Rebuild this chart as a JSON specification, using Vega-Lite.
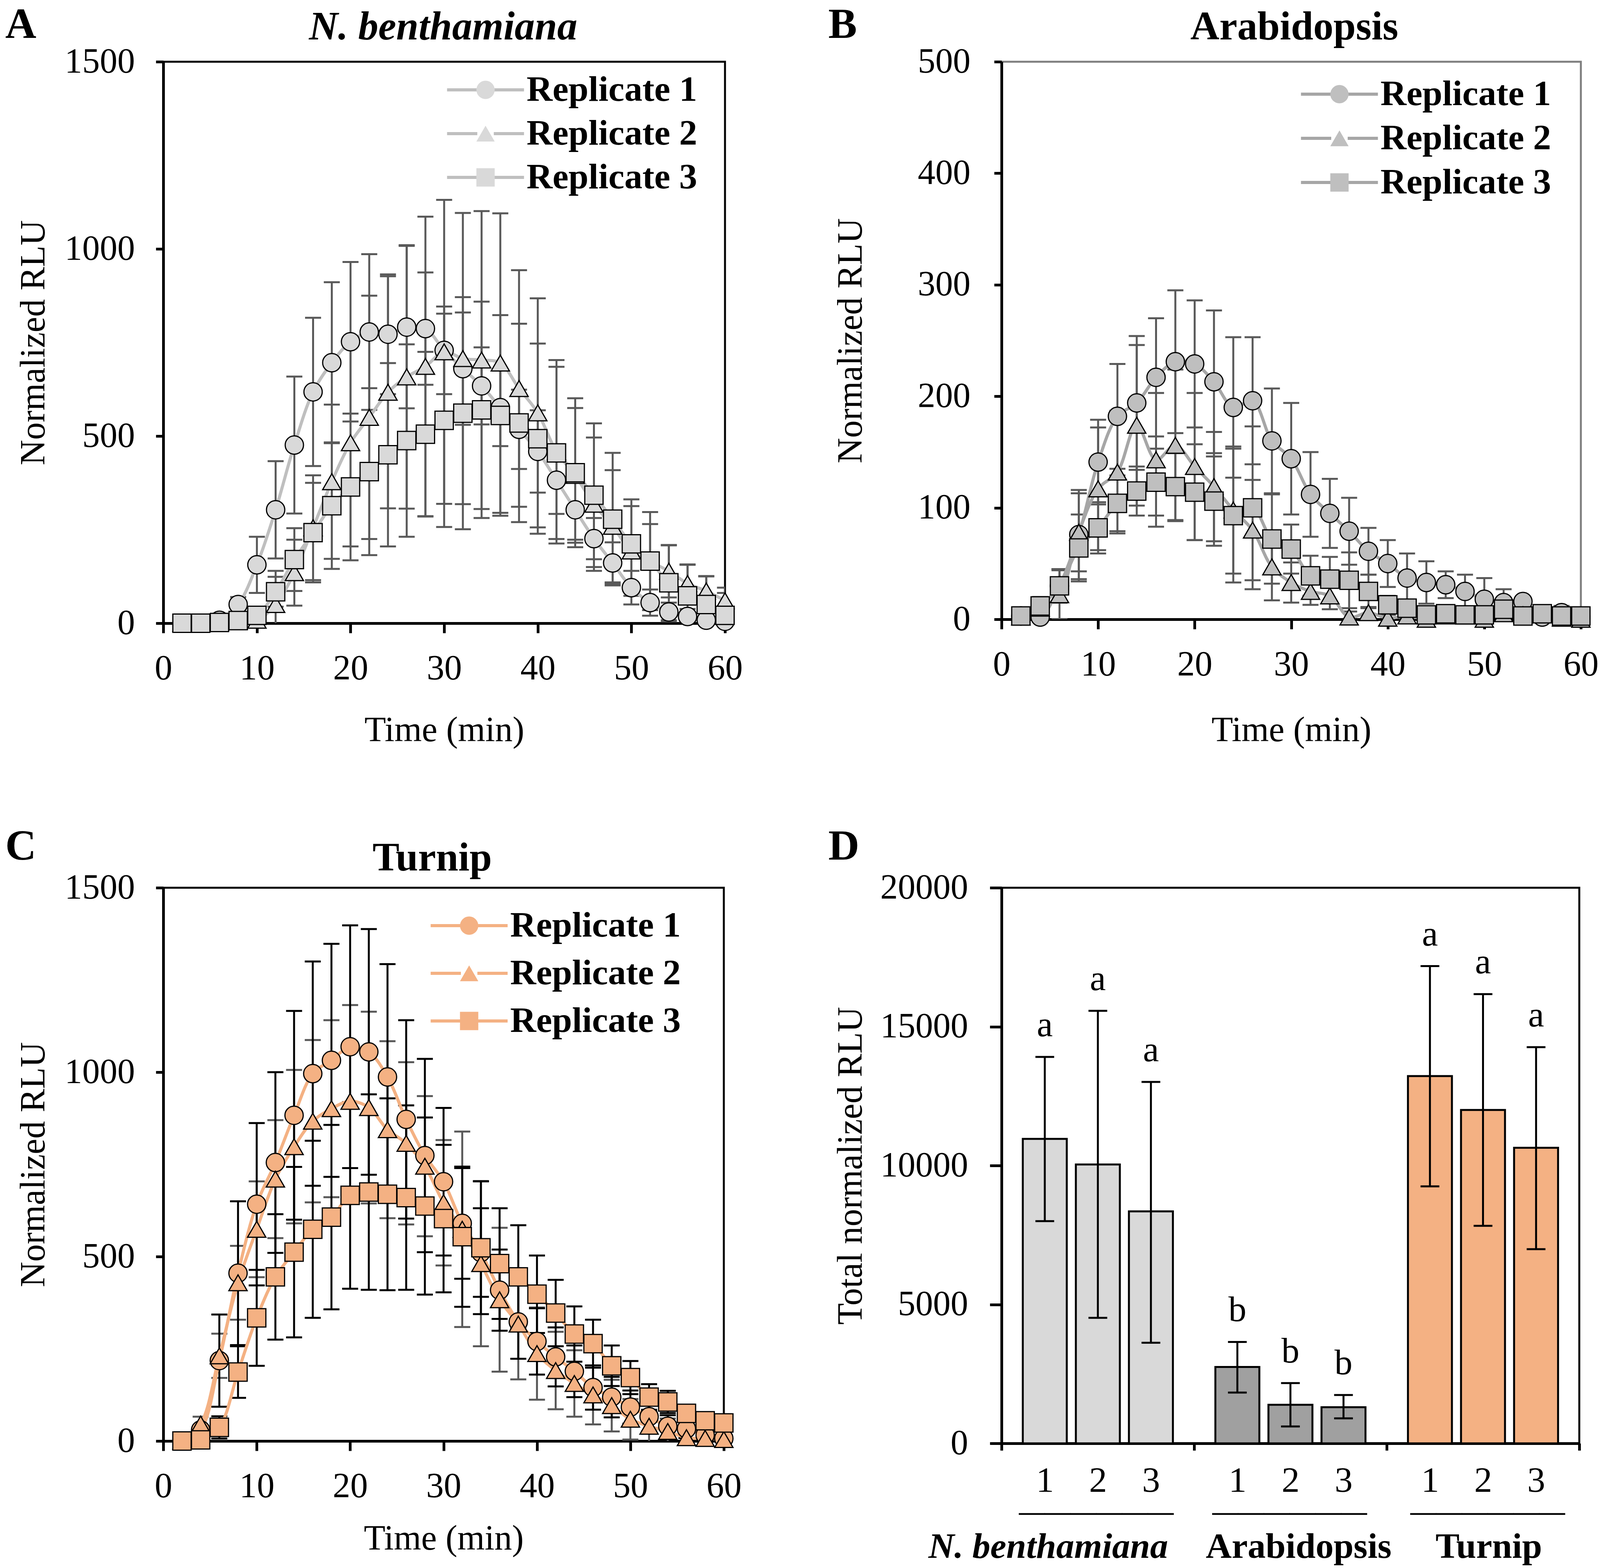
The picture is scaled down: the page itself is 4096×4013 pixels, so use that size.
{
"$schema": "https://vega.github.io/schema/vega-lite/v6.json",
"background": "white",
"padding": {"left": 10, "top": 5, "right": 40, "bottom": 10},
"bounds": "flush",
"align": "each",
"columns": 2,
"spacing": {"row": 677, "column": 708},
"resolve": {"scale": {"color": "independent", "shape": "independent"}, "legend": {"color": "independent", "shape": "independent"}},
"config": {
  "font": "Liberation Serif",
  "axis": {"labelFont": "Liberation Serif", "titleFont": "Liberation Serif", "labelFontSize": 90, "titleFontSize": 90, "titleFontWeight": "normal", "labelColor": "black", "titleColor": "black", "domainColor": "black", "tickColor": "black", "domainWidth": 7, "tickWidth": 7, "grid": false, "labelOverlap": false, "labelFlush": false, "labelLimit": 2000},
  "legend": {"labelFont": "Liberation Serif", "labelFontSize": 92, "labelFontWeight": "bold", "labelColor": "black", "labelLimit": 2000},
  "title": {"font": "Liberation Serif"},
  "view": {"stroke": "black", "strokeWidth": 5}
},
"datasets": {
"A": [
{"t":2,"r":"Replicate 1","v":0,"s":0},{"t":4,"r":"Replicate 1","v":0,"s":2},{"t":6,"r":"Replicate 1","v":8,"s":5},{"t":8,"r":"Replicate 1","v":50,"s":20},{"t":10,"r":"Replicate 1","v":156,"s":75},{"t":12,"r":"Replicate 1","v":303,"s":130},{"t":14,"r":"Replicate 1","v":476,"s":183},{"t":16,"r":"Replicate 1","v":618,"s":198},{"t":18,"r":"Replicate 1","v":696,"s":215},{"t":20,"r":"Replicate 1","v":752,"s":213},{"t":22,"r":"Replicate 1","v":778,"s":208},{"t":24,"r":"Replicate 1","v":772,"s":160},{"t":26,"r":"Replicate 1","v":791,"s":217},{"t":28,"r":"Replicate 1","v":787,"s":150},{"t":30,"r":"Replicate 1","v":729,"s":117},{"t":32,"r":"Replicate 1","v":680,"s":150},{"t":34,"r":"Replicate 1","v":634,"s":103},{"t":36,"r":"Replicate 1","v":576,"s":103},{"t":38,"r":"Replicate 1","v":518,"s":106},{"t":40,"r":"Replicate 1","v":459,"s":110},{"t":42,"r":"Replicate 1","v":382,"s":90},{"t":44,"r":"Replicate 1","v":303,"s":80},{"t":46,"r":"Replicate 1","v":226,"s":55},{"t":48,"r":"Replicate 1","v":161,"s":55},{"t":50,"r":"Replicate 1","v":95,"s":45},{"t":52,"r":"Replicate 1","v":55,"s":35},{"t":54,"r":"Replicate 1","v":30,"s":25},{"t":56,"r":"Replicate 1","v":18,"s":20},{"t":58,"r":"Replicate 1","v":8,"s":10},{"t":60,"r":"Replicate 1","v":5,"s":10},
{"t":2,"r":"Replicate 2","v":0,"s":0},{"t":4,"r":"Replicate 2","v":2,"s":3},{"t":6,"r":"Replicate 2","v":2,"s":5},{"t":8,"r":"Replicate 2","v":5,"s":10},{"t":10,"r":"Replicate 2","v":8,"s":20},{"t":12,"r":"Replicate 2","v":50,"s":90},{"t":14,"r":"Replicate 2","v":135,"s":88},{"t":16,"r":"Replicate 2","v":255,"s":140},{"t":18,"r":"Replicate 2","v":378,"s":206},{"t":20,"r":"Replicate 2","v":482,"s":277},{"t":22,"r":"Replicate 2","v":550,"s":325},{"t":24,"r":"Replicate 2","v":617,"s":310},{"t":26,"r":"Replicate 2","v":658,"s":352},{"t":28,"r":"Replicate 2","v":686,"s":400},{"t":30,"r":"Replicate 2","v":725,"s":406},{"t":32,"r":"Replicate 2","v":707,"s":389},{"t":34,"r":"Replicate 2","v":703,"s":398},{"t":36,"r":"Replicate 2","v":695,"s":400},{"t":38,"r":"Replicate 2","v":627,"s":316},{"t":40,"r":"Replicate 2","v":562,"s":306},{"t":42,"r":"Replicate 2","v":458,"s":245},{"t":44,"r":"Replicate 2","v":395,"s":180},{"t":46,"r":"Replicate 2","v":318,"s":178},{"t":48,"r":"Replicate 2","v":259,"s":150},{"t":50,"r":"Replicate 2","v":193,"s":120},{"t":52,"r":"Replicate 2","v":165,"s":100},{"t":54,"r":"Replicate 2","v":139,"s":70},{"t":56,"r":"Replicate 2","v":106,"s":50},{"t":58,"r":"Replicate 2","v":86,"s":40},{"t":60,"r":"Replicate 2","v":60,"s":35},
{"t":2,"r":"Replicate 3","v":0,"s":0},{"t":4,"r":"Replicate 3","v":0,"s":0},{"t":6,"r":"Replicate 3","v":2,"s":3},{"t":8,"r":"Replicate 3","v":7,"s":8},{"t":10,"r":"Replicate 3","v":21,"s":15},{"t":12,"r":"Replicate 3","v":84,"s":40},{"t":14,"r":"Replicate 3","v":170,"s":84},{"t":16,"r":"Replicate 3","v":242,"s":133},{"t":18,"r":"Replicate 3","v":314,"s":169},{"t":20,"r":"Replicate 3","v":364,"s":196},{"t":22,"r":"Replicate 3","v":405,"s":223},{"t":24,"r":"Replicate 3","v":450,"s":245},{"t":26,"r":"Replicate 3","v":488,"s":257},{"t":28,"r":"Replicate 3","v":505,"s":220},{"t":30,"r":"Replicate 3","v":542,"s":285},{"t":32,"r":"Replicate 3","v":561,"s":310},{"t":34,"r":"Replicate 3","v":570,"s":289},{"t":36,"r":"Replicate 3","v":555,"s":268},{"t":38,"r":"Replicate 3","v":535,"s":265},{"t":40,"r":"Replicate 3","v":493,"s":254},{"t":42,"r":"Replicate 3","v":455,"s":230},{"t":44,"r":"Replicate 3","v":402,"s":199},{"t":46,"r":"Replicate 3","v":342,"s":192},{"t":48,"r":"Replicate 3","v":278,"s":177},{"t":50,"r":"Replicate 3","v":212,"s":119},{"t":52,"r":"Replicate 3","v":166,"s":131},{"t":54,"r":"Replicate 3","v":108,"s":100},{"t":56,"r":"Replicate 3","v":73,"s":84},{"t":58,"r":"Replicate 3","v":50,"s":75},{"t":60,"r":"Replicate 3","v":21,"s":60}
],
"B": [
{"t":2,"r":"Replicate 1","v":3,"s":5},{"t":4,"r":"Replicate 1","v":2,"s":8},{"t":6,"r":"Replicate 1","v":30,"s":15},{"t":8,"r":"Replicate 1","v":76,"s":40},{"t":10,"r":"Replicate 1","v":141,"s":38},{"t":12,"r":"Replicate 1","v":182,"s":47},{"t":14,"r":"Replicate 1","v":194,"s":60},{"t":16,"r":"Replicate 1","v":217,"s":53},{"t":18,"r":"Replicate 1","v":231,"s":64},{"t":20,"r":"Replicate 1","v":229,"s":57},{"t":22,"r":"Replicate 1","v":213,"s":64},{"t":24,"r":"Replicate 1","v":190,"s":63},{"t":26,"r":"Replicate 1","v":196,"s":57},{"t":28,"r":"Replicate 1","v":160,"s":47},{"t":30,"r":"Replicate 1","v":144,"s":50},{"t":32,"r":"Replicate 1","v":112,"s":38},{"t":34,"r":"Replicate 1","v":95,"s":31},{"t":36,"r":"Replicate 1","v":79,"s":30},{"t":38,"r":"Replicate 1","v":61,"s":21},{"t":40,"r":"Replicate 1","v":50,"s":21},{"t":42,"r":"Replicate 1","v":37,"s":22},{"t":44,"r":"Replicate 1","v":33,"s":19},{"t":46,"r":"Replicate 1","v":31,"s":12},{"t":48,"r":"Replicate 1","v":25,"s":15},{"t":50,"r":"Replicate 1","v":18,"s":19},{"t":52,"r":"Replicate 1","v":15,"s":12},{"t":54,"r":"Replicate 1","v":16,"s":4},{"t":56,"r":"Replicate 1","v":2,"s":10},{"t":58,"r":"Replicate 1","v":6,"s":6},{"t":60,"r":"Replicate 1","v":2,"s":6},
{"t":2,"r":"Replicate 2","v":2,"s":5},{"t":4,"r":"Replicate 2","v":10,"s":5},{"t":6,"r":"Replicate 2","v":22,"s":22},{"t":8,"r":"Replicate 2","v":78,"s":35},{"t":10,"r":"Replicate 2","v":117,"s":55},{"t":12,"r":"Replicate 2","v":132,"s":55},{"t":14,"r":"Replicate 2","v":174,"s":72},{"t":16,"r":"Replicate 2","v":143,"s":60},{"t":18,"r":"Replicate 2","v":156,"s":68},{"t":20,"r":"Replicate 2","v":137,"s":66},{"t":22,"r":"Replicate 2","v":119,"s":49},{"t":24,"r":"Replicate 2","v":98,"s":57},{"t":26,"r":"Replicate 2","v":80,"s":45},{"t":28,"r":"Replicate 2","v":47,"s":30},{"t":30,"r":"Replicate 2","v":33,"s":18},{"t":32,"r":"Replicate 2","v":25,"s":12},{"t":34,"r":"Replicate 2","v":21,"s":12},{"t":36,"r":"Replicate 2","v":2,"s":5},{"t":38,"r":"Replicate 2","v":6,"s":5},{"t":40,"r":"Replicate 2","v":1,"s":3},{"t":42,"r":"Replicate 2","v":3,"s":3},{"t":44,"r":"Replicate 2","v":0,"s":3},{"t":46,"r":"Replicate 2","v":3,"s":3},{"t":48,"r":"Replicate 2","v":3,"s":3},{"t":50,"r":"Replicate 2","v":0,"s":3},{"t":52,"r":"Replicate 2","v":5,"s":3},{"t":54,"r":"Replicate 2","v":4,"s":5},{"t":56,"r":"Replicate 2","v":5,"s":5},{"t":58,"r":"Replicate 2","v":1,"s":3},{"t":60,"r":"Replicate 2","v":0,"s":3},
{"t":2,"r":"Replicate 3","v":3,"s":5},{"t":4,"r":"Replicate 3","v":12,"s":8},{"t":6,"r":"Replicate 3","v":30,"s":15},{"t":8,"r":"Replicate 3","v":64,"s":30},{"t":10,"r":"Replicate 3","v":82,"s":23},{"t":12,"r":"Replicate 3","v":104,"s":25},{"t":14,"r":"Replicate 3","v":115,"s":22},{"t":16,"r":"Replicate 3","v":123,"s":30},{"t":18,"r":"Replicate 3","v":119,"s":30},{"t":20,"r":"Replicate 3","v":114,"s":43},{"t":22,"r":"Replicate 3","v":106,"s":40},{"t":24,"r":"Replicate 3","v":93,"s":60},{"t":26,"r":"Replicate 3","v":100,"s":73},{"t":28,"r":"Replicate 3","v":72,"s":40},{"t":30,"r":"Replicate 3","v":63,"s":22},{"t":32,"r":"Replicate 3","v":39,"s":18},{"t":34,"r":"Replicate 3","v":36,"s":20},{"t":36,"r":"Replicate 3","v":35,"s":25},{"t":38,"r":"Replicate 3","v":25,"s":15},{"t":40,"r":"Replicate 3","v":13,"s":8},{"t":42,"r":"Replicate 3","v":10,"s":5},{"t":44,"r":"Replicate 3","v":4,"s":4},{"t":46,"r":"Replicate 3","v":5,"s":4},{"t":48,"r":"Replicate 3","v":4,"s":4},{"t":50,"r":"Replicate 3","v":4,"s":4},{"t":52,"r":"Replicate 3","v":9,"s":6},{"t":54,"r":"Replicate 3","v":3,"s":3},{"t":56,"r":"Replicate 3","v":5,"s":3},{"t":58,"r":"Replicate 3","v":3,"s":3},{"t":60,"r":"Replicate 3","v":3,"s":3}
],
"C": [
{"t":2,"r":"Replicate 1","v":0,"s":0},{"t":4,"r":"Replicate 1","v":30,"s":5},{"t":6,"r":"Replicate 1","v":218,"s":125},{"t":8,"r":"Replicate 1","v":455,"s":195},{"t":10,"r":"Replicate 1","v":642,"s":220},{"t":12,"r":"Replicate 1","v":755,"s":245},{"t":14,"r":"Replicate 1","v":883,"s":283},{"t":16,"r":"Replicate 1","v":996,"s":304},{"t":18,"r":"Replicate 1","v":1032,"s":316},{"t":20,"r":"Replicate 1","v":1069,"s":329},{"t":22,"r":"Replicate 1","v":1055,"s":333},{"t":24,"r":"Replicate 1","v":987,"s":306},{"t":26,"r":"Replicate 1","v":872,"s":269},{"t":28,"r":"Replicate 1","v":774,"s":262},{"t":30,"r":"Replicate 1","v":703,"s":200},{"t":32,"r":"Replicate 1","v":590,"s":150},{"t":34,"r":"Replicate 1","v":511,"s":120},{"t":36,"r":"Replicate 1","v":409,"s":110},{"t":38,"r":"Replicate 1","v":323,"s":100},{"t":40,"r":"Replicate 1","v":270,"s":90},{"t":42,"r":"Replicate 1","v":228,"s":80},{"t":44,"r":"Replicate 1","v":189,"s":70},{"t":46,"r":"Replicate 1","v":145,"s":60},{"t":48,"r":"Replicate 1","v":119,"s":55},{"t":50,"r":"Replicate 1","v":92,"s":45},{"t":52,"r":"Replicate 1","v":66,"s":40},{"t":54,"r":"Replicate 1","v":40,"s":30},{"t":56,"r":"Replicate 1","v":33,"s":25},{"t":58,"r":"Replicate 1","v":16,"s":15},{"t":60,"r":"Replicate 1","v":7,"s":10},
{"t":2,"r":"Replicate 2","v":0,"s":0},{"t":4,"r":"Replicate 2","v":46,"s":20},{"t":6,"r":"Replicate 2","v":231,"s":60},{"t":8,"r":"Replicate 2","v":429,"s":100},{"t":10,"r":"Replicate 2","v":574,"s":130},{"t":12,"r":"Replicate 2","v":710,"s":160},{"t":14,"r":"Replicate 2","v":798,"s":208},{"t":16,"r":"Replicate 2","v":867,"s":220},{"t":18,"r":"Replicate 2","v":901,"s":240},{"t":20,"r":"Replicate 2","v":921,"s":261},{"t":22,"r":"Replicate 2","v":904,"s":260},{"t":24,"r":"Replicate 2","v":844,"s":240},{"t":26,"r":"Replicate 2","v":807,"s":220},{"t":28,"r":"Replicate 2","v":745,"s":190},{"t":30,"r":"Replicate 2","v":646,"s":170},{"t":32,"r":"Replicate 2","v":574,"s":265},{"t":34,"r":"Replicate 2","v":481,"s":224},{"t":36,"r":"Replicate 2","v":383,"s":195},{"t":38,"r":"Replicate 2","v":317,"s":150},{"t":40,"r":"Replicate 2","v":237,"s":125},{"t":42,"r":"Replicate 2","v":191,"s":105},{"t":44,"r":"Replicate 2","v":156,"s":90},{"t":46,"r":"Replicate 2","v":125,"s":80},{"t":48,"r":"Replicate 2","v":96,"s":70},{"t":50,"r":"Replicate 2","v":59,"s":55},{"t":52,"r":"Replicate 2","v":40,"s":45},{"t":54,"r":"Replicate 2","v":26,"s":35},{"t":56,"r":"Replicate 2","v":9,"s":25},{"t":58,"r":"Replicate 2","v":7,"s":15},{"t":60,"r":"Replicate 2","v":4,"s":10},
{"t":2,"r":"Replicate 3","v":0,"s":0},{"t":4,"r":"Replicate 3","v":3,"s":10},{"t":6,"r":"Replicate 3","v":37,"s":30},{"t":8,"r":"Replicate 3","v":187,"s":70},{"t":10,"r":"Replicate 3","v":334,"s":130},{"t":12,"r":"Replicate 3","v":445,"s":170},{"t":14,"r":"Replicate 3","v":512,"s":231},{"t":16,"r":"Replicate 3","v":574,"s":240},{"t":18,"r":"Replicate 3","v":607,"s":250},{"t":20,"r":"Replicate 3","v":666,"s":253},{"t":22,"r":"Replicate 3","v":675,"s":265},{"t":24,"r":"Replicate 3","v":669,"s":260},{"t":26,"r":"Replicate 3","v":660,"s":250},{"t":28,"r":"Replicate 3","v":637,"s":240},{"t":30,"r":"Replicate 3","v":603,"s":200},{"t":32,"r":"Replicate 3","v":554,"s":190},{"t":34,"r":"Replicate 3","v":524,"s":180},{"t":36,"r":"Replicate 3","v":481,"s":150},{"t":38,"r":"Replicate 3","v":445,"s":140},{"t":40,"r":"Replicate 3","v":398,"s":105},{"t":42,"r":"Replicate 3","v":347,"s":90},{"t":44,"r":"Replicate 3","v":290,"s":75},{"t":46,"r":"Replicate 3","v":264,"s":65},{"t":48,"r":"Replicate 3","v":204,"s":55},{"t":50,"r":"Replicate 3","v":172,"s":45},{"t":52,"r":"Replicate 3","v":119,"s":35},{"t":54,"r":"Replicate 3","v":106,"s":30},{"t":56,"r":"Replicate 3","v":75,"s":20},{"t":58,"r":"Replicate 3","v":55,"s":15},{"t":60,"r":"Replicate 3","v":49,"s":10}
],
"D": [
{"g":"N. benthamiana","n":"1","v":10960,"lo":8000,"hi":13910,"lab":"a"},
{"g":"N. benthamiana","n":"2","v":10040,"lo":4520,"hi":15570,"lab":"a"},
{"g":"N. benthamiana","n":"3","v":8350,"lo":3620,"hi":13010,"lab":"a"},
{"g":"Arabidopsis","n":"1","v":2750,"lo":1830,"hi":3650,"lab":"b"},
{"g":"Arabidopsis","n":"2","v":1390,"lo":610,"hi":2170,"lab":"b"},
{"g":"Arabidopsis","n":"3","v":1300,"lo":900,"hi":1740,"lab":"b"},
{"g":"Turnip","n":"1","v":13220,"lo":9250,"hi":17180,"lab":"a"},
{"g":"Turnip","n":"2","v":12000,"lo":7830,"hi":16170,"lab":"a"},
{"g":"Turnip","n":"3","v":10640,"lo":6990,"hi":14260,"lab":"a"}
]
},
"concat": [
{
 "width": 1438, "height": 1437,
 "data": {"name": "A"},
 "view": {"stroke": "black", "strokeWidth": 5},
 "layer": [
  {"mark": {"type": "errorbar", "ticks": {"opacity": 1}, "rule": {"opacity": 1}, "size": 41, "thickness": 5, "color": "#595959", "opacity": 1, "clip": true},
   "encoding": {
    "x": {"field": "t", "type": "quantitative", "scale": {"domain": [0, 60], "nice": false}, "axis": {"orient": "top", "labels": false, "ticks": false, "domain": false, "title": "A", "titleFontSize": 110, "titleFontWeight": "bold", "titleAngle": 0, "titleAlign": "left", "titleBaseline": "alphabetic", "titleX": -405, "titleY": -62}},
    "y": {"field": "v", "type": "quantitative", "scale": {"domain": [0, 1500], "nice": false}, "axis": {"title": "Normalized RLU", "values": [0, 500, 1000, 1500], "format": "d", "tickSize": 19, "labelPadding": 54, "titlePadding": 86}},
    "yError": {"field": "s"}
   }},
  {"mark": {"type": "line", "interpolate": "catmull-rom", "strokeWidth": 8},
   "encoding": {
    "x": {"field": "t", "type": "quantitative", "scale": {"domain": [0, 60], "nice": false}, "axis": {"orient": "bottom", "title": "Time (min)", "values": [0, 10, 20, 30, 40, 50, 60], "format": "d", "tickSize": 25, "labelPadding": 47, "titlePadding": 69}},
    "y": {"field": "v", "type": "quantitative", "scale": {"domain": [0, 1500], "nice": false}, "axis": {"title": "Normalized RLU", "values": [0, 500, 1000, 1500], "format": "d", "tickSize": 19, "labelPadding": 54, "titlePadding": 86}},
    "color": {"field": "r", "type": "nominal", "scale": {"domain": ["Replicate 1", "Replicate 2", "Replicate 3"], "range": ["#bfbfbf", "#bfbfbf", "#bfbfbf"]}, "legend": {"orient": "none", "legendX": 779, "legendY": 26, "zindex": 1, "title": null, "padding": 0, "symbolType": "M-4.2,0H-0.9M0.9,0H4.2", "symbolSize": 2200, "symbolStrokeWidth": 8, "labelOpacity": 0, "rowPadding": 20, "labelOffset": 59}}
   }},
  {"mark": {"type": "point", "filled": true, "fill": "#d9d9d9", "stroke": "black", "strokeWidth": 3, "size": 2200, "opacity": 1},
   "encoding": {
    "x": {"field": "t", "type": "quantitative", "scale": {"domain": [0, 60], "nice": false}, "axis": {"orient": "top", "labels": false, "ticks": false, "domain": false, "title": "N. benthamiana", "titleFontSize": 103, "titleFontWeight": "bold", "titleFontStyle": "italic", "titleAngle": 0, "titleAlign": "center", "titleBaseline": "alphabetic", "titleX": 716, "titleY": -58}},
    "y": {"field": "v", "type": "quantitative", "scale": {"domain": [0, 1500], "nice": false}, "axis": {"title": "Normalized RLU", "values": [0, 500, 1000, 1500], "format": "d", "tickSize": 19, "labelPadding": 54, "titlePadding": 86}},
    "shape": {"field": "r", "type": "nominal", "scale": {"range": ["circle", "triangle-up", "square"]}, "legend": {"orient": "none", "legendX": 779, "legendY": 26, "zindex": 2, "title": null, "padding": 0, "symbolSize": 2200, "symbolFillColor": "#d9d9d9", "symbolStrokeColor": "black", "symbolStrokeWidth": 3, "symbolOpacity": 1, "rowPadding": 20, "labelOffset": 59, "encode": {"symbols": {"update": {"size": {"value": 2200}, "fill": {"value": "#d9d9d9"}, "stroke": {"value": "black"}, "strokeWidth": {"value": 3}, "opacity": {"value": 1}}}}}}
   }}
 ],
 "resolve": {"axis": {"x": "independent"}}
},
{
 "width": 1483, "height": 1427,
 "data": {"name": "B"},
 "view": {"stroke": "#7f7f7f", "strokeWidth": 5},
 "layer": [
  {"mark": {"type": "errorbar", "ticks": {"opacity": 1}, "rule": {"opacity": 1}, "size": 41, "thickness": 5, "color": "#595959", "opacity": 1, "clip": true},
   "encoding": {
    "x": {"field": "t", "type": "quantitative", "scale": {"domain": [0, 60], "nice": false}, "axis": {"orient": "top", "labels": false, "ticks": false, "domain": false, "title": "B", "titleFontSize": 110, "titleFontWeight": "bold", "titleAngle": 0, "titleAlign": "left", "titleBaseline": "alphabetic", "titleX": -444, "titleY": -62}},
    "y": {"field": "v", "type": "quantitative", "scale": {"domain": [0, 500], "nice": false}, "axis": {"title": "Normalized RLU", "values": [0, 100, 200, 300, 400, 500], "format": "d", "tickSize": 19, "labelPadding": 61, "titlePadding": 140}},
    "yError": {"field": "s"}
   }},
  {"mark": {"type": "line", "interpolate": "catmull-rom", "strokeWidth": 8},
   "encoding": {
    "x": {"field": "t", "type": "quantitative", "scale": {"domain": [0, 60], "nice": false}, "axis": {"orient": "bottom", "title": "Time (min)", "values": [0, 10, 20, 30, 40, 50, 60], "format": "d", "tickSize": 25, "labelPadding": 47, "titlePadding": 79}},
    "y": {"field": "v", "type": "quantitative", "scale": {"domain": [0, 500], "nice": false}, "axis": {"title": "Normalized RLU", "values": [0, 100, 200, 300, 400, 500], "format": "d", "tickSize": 19, "labelPadding": 61, "titlePadding": 140}},
    "color": {"field": "r", "type": "nominal", "scale": {"domain": ["Replicate 1", "Replicate 2", "Replicate 3"], "range": ["#a6a6a6", "#a6a6a6", "#a6a6a6"]}, "legend": {"orient": "none", "legendX": 819, "legendY": 37, "zindex": 1, "title": null, "padding": 0, "symbolType": "M-4.2,0H-0.9M0.9,0H4.2", "symbolSize": 2200, "symbolStrokeWidth": 8, "labelOpacity": 0, "rowPadding": 21, "labelOffset": 59}}
   }},
  {"mark": {"type": "point", "filled": true, "fill": "#bfbfbf", "stroke": "black", "strokeWidth": 3, "size": 2200, "opacity": 1},
   "encoding": {
    "x": {"field": "t", "type": "quantitative", "scale": {"domain": [0, 60], "nice": false}, "axis": {"orient": "top", "labels": false, "ticks": false, "domain": false, "title": "Arabidopsis", "titleFontSize": 103, "titleFontWeight": "bold", "titleAngle": 0, "titleAlign": "center", "titleBaseline": "alphabetic", "titleX": 749, "titleY": -58}},
    "y": {"field": "v", "type": "quantitative", "scale": {"domain": [0, 500], "nice": false}, "axis": {"title": "Normalized RLU", "values": [0, 100, 200, 300, 400, 500], "format": "d", "tickSize": 19, "labelPadding": 61, "titlePadding": 140}},
    "shape": {"field": "r", "type": "nominal", "scale": {"range": ["circle", "triangle-up", "square"]}, "legend": {"orient": "none", "legendX": 819, "legendY": 37, "zindex": 2, "title": null, "padding": 0, "symbolSize": 2200, "symbolFillColor": "#bfbfbf", "symbolStrokeColor": "black", "symbolStrokeWidth": 3, "symbolOpacity": 1, "rowPadding": 21, "labelOffset": 59, "encode": {"symbols": {"update": {"size": {"value": 2200}, "fill": {"value": "#bfbfbf"}, "stroke": {"value": "black"}, "strokeWidth": {"value": 3}, "opacity": {"value": 1}}}}}}
   }}
 ],
 "resolve": {"axis": {"x": "independent"}}
},
{
 "width": 1435, "height": 1416,
 "data": {"name": "C"},
 "view": {"stroke": "black", "strokeWidth": 5},
 "layer": [
  {"transform": [{"filter": "datum.r == 'Replicate 2'"}],
   "mark": {"type": "errorbar", "ticks": {"opacity": 1}, "rule": {"opacity": 1}, "size": 41, "thickness": 5, "color": "#595959", "opacity": 1, "clip": true},
   "encoding": {
    "x": {"field": "t", "type": "quantitative", "scale": {"domain": [0, 60], "nice": false}, "axis": {"orient": "top", "labels": false, "ticks": false, "domain": false, "title": "C", "titleFontSize": 110, "titleFontWeight": "bold", "titleAngle": 0, "titleAlign": "left", "titleBaseline": "alphabetic", "titleX": -405, "titleY": -73}},
    "y": {"field": "v", "type": "quantitative", "scale": {"domain": [0, 1500], "nice": false}, "axis": {"title": "Normalized RLU", "values": [0, 500, 1000, 1500], "format": "d", "tickSize": 19, "labelPadding": 54, "titlePadding": 86}},
    "yError": {"field": "s"}
   }},
  {"transform": [{"filter": "datum.r != 'Replicate 2'"}],
   "mark": {"type": "errorbar", "ticks": {"opacity": 1}, "rule": {"opacity": 1}, "size": 41, "thickness": 5, "color": "black", "opacity": 1, "clip": true},
   "encoding": {
    "x": {"field": "t", "type": "quantitative", "scale": {"domain": [0, 60], "nice": false}, "axis": null},
    "y": {"field": "v", "type": "quantitative", "scale": {"domain": [0, 1500], "nice": false}, "axis": {"title": "Normalized RLU", "values": [0, 500, 1000, 1500], "format": "d", "tickSize": 19, "labelPadding": 54, "titlePadding": 86}},
    "yError": {"field": "s"}
   }},
  {"mark": {"type": "line", "interpolate": "catmull-rom", "strokeWidth": 8},
   "encoding": {
    "x": {"field": "t", "type": "quantitative", "scale": {"domain": [0, 60], "nice": false}, "axis": {"orient": "bottom", "title": "Time (min)", "values": [0, 10, 20, 30, 40, 50, 60], "format": "d", "tickSize": 25, "labelPadding": 47, "titlePadding": 45}},
    "y": {"field": "v", "type": "quantitative", "scale": {"domain": [0, 1500], "nice": false}, "axis": {"title": "Normalized RLU", "values": [0, 500, 1000, 1500], "format": "d", "tickSize": 19, "labelPadding": 54, "titlePadding": 86}},
    "color": {"field": "r", "type": "nominal", "scale": {"domain": ["Replicate 1", "Replicate 2", "Replicate 3"], "range": ["#f4b183", "#f4b183", "#f4b183"]}, "legend": {"orient": "none", "legendX": 737, "legendY": 51, "zindex": 1, "title": null, "padding": 0, "symbolType": "M-4.2,0H-0.9M0.9,0H4.2", "symbolSize": 2200, "symbolStrokeWidth": 8, "labelOpacity": 0, "rowPadding": 30, "labelOffset": 59}}
   }},
  {"mark": {"type": "point", "filled": true, "fill": "#f4b183", "stroke": "black", "strokeWidth": 3, "size": 2200, "opacity": 1},
   "encoding": {
    "x": {"field": "t", "type": "quantitative", "scale": {"domain": [0, 60], "nice": false}, "axis": {"orient": "top", "labels": false, "ticks": false, "domain": false, "title": "Turnip", "titleFontSize": 103, "titleFontWeight": "bold", "titleAngle": 0, "titleAlign": "center", "titleBaseline": "alphabetic", "titleX": 688, "titleY": -45}},
    "y": {"field": "v", "type": "quantitative", "scale": {"domain": [0, 1500], "nice": false}, "axis": {"title": "Normalized RLU", "values": [0, 500, 1000, 1500], "format": "d", "tickSize": 19, "labelPadding": 54, "titlePadding": 86}},
    "shape": {"field": "r", "type": "nominal", "scale": {"range": ["circle", "triangle-up", "square"]}, "legend": {"orient": "none", "legendX": 737, "legendY": 51, "zindex": 2, "title": null, "padding": 0, "symbolSize": 2200, "symbolFillColor": "#f4b183", "symbolStrokeColor": "black", "symbolStrokeWidth": 3, "symbolOpacity": 1, "rowPadding": 30, "labelOffset": 59, "encode": {"symbols": {"update": {"size": {"value": 2200}, "fill": {"value": "#f4b183"}, "stroke": {"value": "black"}, "strokeWidth": {"value": 3}, "opacity": {"value": 1}}}}}}
   }}
 ],
 "resolve": {"axis": {"x": "independent"}}
},
{
 "width": 1479, "height": 1422,
 "data": {"name": "D"},
 "view": {"stroke": "black", "strokeWidth": 5},
 "layer": [
  {
   "layer": [
    {"mark": {"type": "bar", "stroke": "black", "strokeWidth": 5, "opacity": 1},
     "encoding": {
      "x": {"field": "g", "type": "nominal", "sort": ["N. benthamiana", "Arabidopsis", "Turnip"], "scale": {"paddingInner": 0, "paddingOuter": 0}, "axis": {"orient": "bottom", "title": null, "tickBand": "extent", "tickSize": 18, "labels": false}},
      "xOffset": {"field": "n", "type": "nominal", "scale": {"paddingInner": 0.171, "paddingOuter": 0.4}},
      "y": {"field": "v", "type": "quantitative", "scale": {"domain": [0, 20000], "nice": false}, "axis": {"title": "Total normalized RLU", "values": [0, 5000, 10000, 15000, 20000], "format": "d", "tickSize": 30, "labelPadding": 56, "titlePadding": 140}},
      "color": {"field": "g", "type": "nominal", "scale": {"domain": ["N. benthamiana", "Arabidopsis", "Turnip"], "range": ["#d9d9d9", "#a0a0a0", "#f4b183"]}, "legend": null}
     }},
    {"mark": {"type": "rule", "color": "black", "strokeWidth": 5},
     "encoding": {
      "x": {"field": "g", "type": "nominal", "sort": ["N. benthamiana", "Arabidopsis", "Turnip"], "scale": {"paddingInner": 0, "paddingOuter": 0}, "axis": null},
      "xOffset": {"field": "n", "type": "nominal", "scale": {"paddingInner": 0.171, "paddingOuter": 0.4}},
      "y": {"field": "lo", "type": "quantitative", "scale": {"domain": [0, 20000], "nice": false}, "axis": {"title": "Total normalized RLU", "values": [0, 5000, 10000, 15000, 20000], "format": "d", "tickSize": 30, "labelPadding": 56, "titlePadding": 140}},
      "y2": {"field": "hi"}
     }},
    {"mark": {"type": "tick", "color": "black", "thickness": 5, "size": 48, "opacity": 1},
     "encoding": {
      "x": {"field": "g", "type": "nominal", "sort": ["N. benthamiana", "Arabidopsis", "Turnip"], "scale": {"paddingInner": 0, "paddingOuter": 0}, "axis": null},
      "xOffset": {"field": "n", "type": "nominal", "scale": {"paddingInner": 0.171, "paddingOuter": 0.4}},
      "y": {"field": "hi", "type": "quantitative", "scale": {"domain": [0, 20000], "nice": false}, "axis": {"title": "Total normalized RLU", "values": [0, 5000, 10000, 15000, 20000], "format": "d", "tickSize": 30, "labelPadding": 56, "titlePadding": 140}}
     }},
    {"mark": {"type": "tick", "color": "black", "thickness": 5, "size": 48, "opacity": 1},
     "encoding": {
      "x": {"field": "g", "type": "nominal", "sort": ["N. benthamiana", "Arabidopsis", "Turnip"], "scale": {"paddingInner": 0, "paddingOuter": 0}, "axis": null},
      "xOffset": {"field": "n", "type": "nominal", "scale": {"paddingInner": 0.171, "paddingOuter": 0.4}},
      "y": {"field": "lo", "type": "quantitative", "scale": {"domain": [0, 20000], "nice": false}, "axis": {"title": "Total normalized RLU", "values": [0, 5000, 10000, 15000, 20000], "format": "d", "tickSize": 30, "labelPadding": 56, "titlePadding": 140}}
     }},
    {"mark": {"type": "text", "font": "Liberation Serif", "fontSize": 92, "baseline": "middle", "align": "center", "dy": -81, "color": "black"},
     "encoding": {
      "x": {"field": "g", "type": "nominal", "sort": ["N. benthamiana", "Arabidopsis", "Turnip"], "scale": {"paddingInner": 0, "paddingOuter": 0}, "axis": {"orient": "top", "labels": false, "ticks": false, "domain": false, "title": "D", "titleFontSize": 110, "titleFontWeight": "bold", "titleAngle": 0, "titleAlign": "left", "titleBaseline": "alphabetic", "titleX": -444, "titleY": -73}},
      "xOffset": {"field": "n", "type": "nominal", "scale": {"paddingInner": 0.171, "paddingOuter": 0.4}},
      "y": {"field": "hi", "type": "quantitative", "scale": {"domain": [0, 20000], "nice": false}, "axis": {"title": "Total normalized RLU", "values": [0, 5000, 10000, 15000, 20000], "format": "d", "tickSize": 30, "labelPadding": 56, "titlePadding": 140}},
      "text": {"field": "lab"}
     }}
   ],
   "resolve": {"axis": {"x": "independent"}}
  },
  {"mark": {"type": "point", "opacity": 0},
   "encoding": {
    "x": {"datum": 0, "type": "quantitative", "scale": {"domain": [0, 3], "nice": false, "zero": false}, "axis": {"orient": "bottom", "title": null, "values": [0.2244, 0.5, 0.7756, 1.2244, 1.5, 1.7756, 2.2244, 2.5, 2.7756, 0.2414, 1.5416, 2.529, 0.4911, 1.4951, 2.5231], "labelExpr": "datum.value == 0.2414 ? 'N. benthamiana' : (datum.value == 1.5416 ? 'Arabidopsis' : (datum.value == 2.529 ? 'Turnip' : ((datum.value == 0.4911 || datum.value == 1.4951 || datum.value == 2.5231) ? '\u2014\u2014\u2014\u2014\u2014\u2014' : ((datum.value % 1) < 0.35 ? '1' : ((datum.value % 1) < 0.6 ? '2' : '3')))))", "ticks": false, "tickSize": 0, "domain": false, "labelPadding": {"condition": [{"test": "datum.value == 0.4911 || datum.value == 1.4951 || datum.value == 2.5231", "value": 143}, {"test": "datum.value == 0.2414 || datum.value == 1.5416 || datum.value == 2.529", "value": 219}], "value": 50}, "labelFontSize": {"condition": {"test": "datum.value == 0.4911 || datum.value == 1.4951 || datum.value == 2.5231", "value": 66}, "value": 92}, "labelFontWeight": {"condition": {"test": "datum.value == 0.2414 || datum.value == 1.5416 || datum.value == 2.529 || datum.value == 0.4911 || datum.value == 1.4951 || datum.value == 2.5231", "value": "bold"}, "value": "normal"}, "labelFontStyle": {"condition": {"test": "datum.value == 0.2414", "value": "italic"}, "value": "normal"}, "labelAngle": 0, "labelBaseline": "top"}}
   }}
 ],
 "resolve": {"scale": {"x": "independent"}}
}
]
}
